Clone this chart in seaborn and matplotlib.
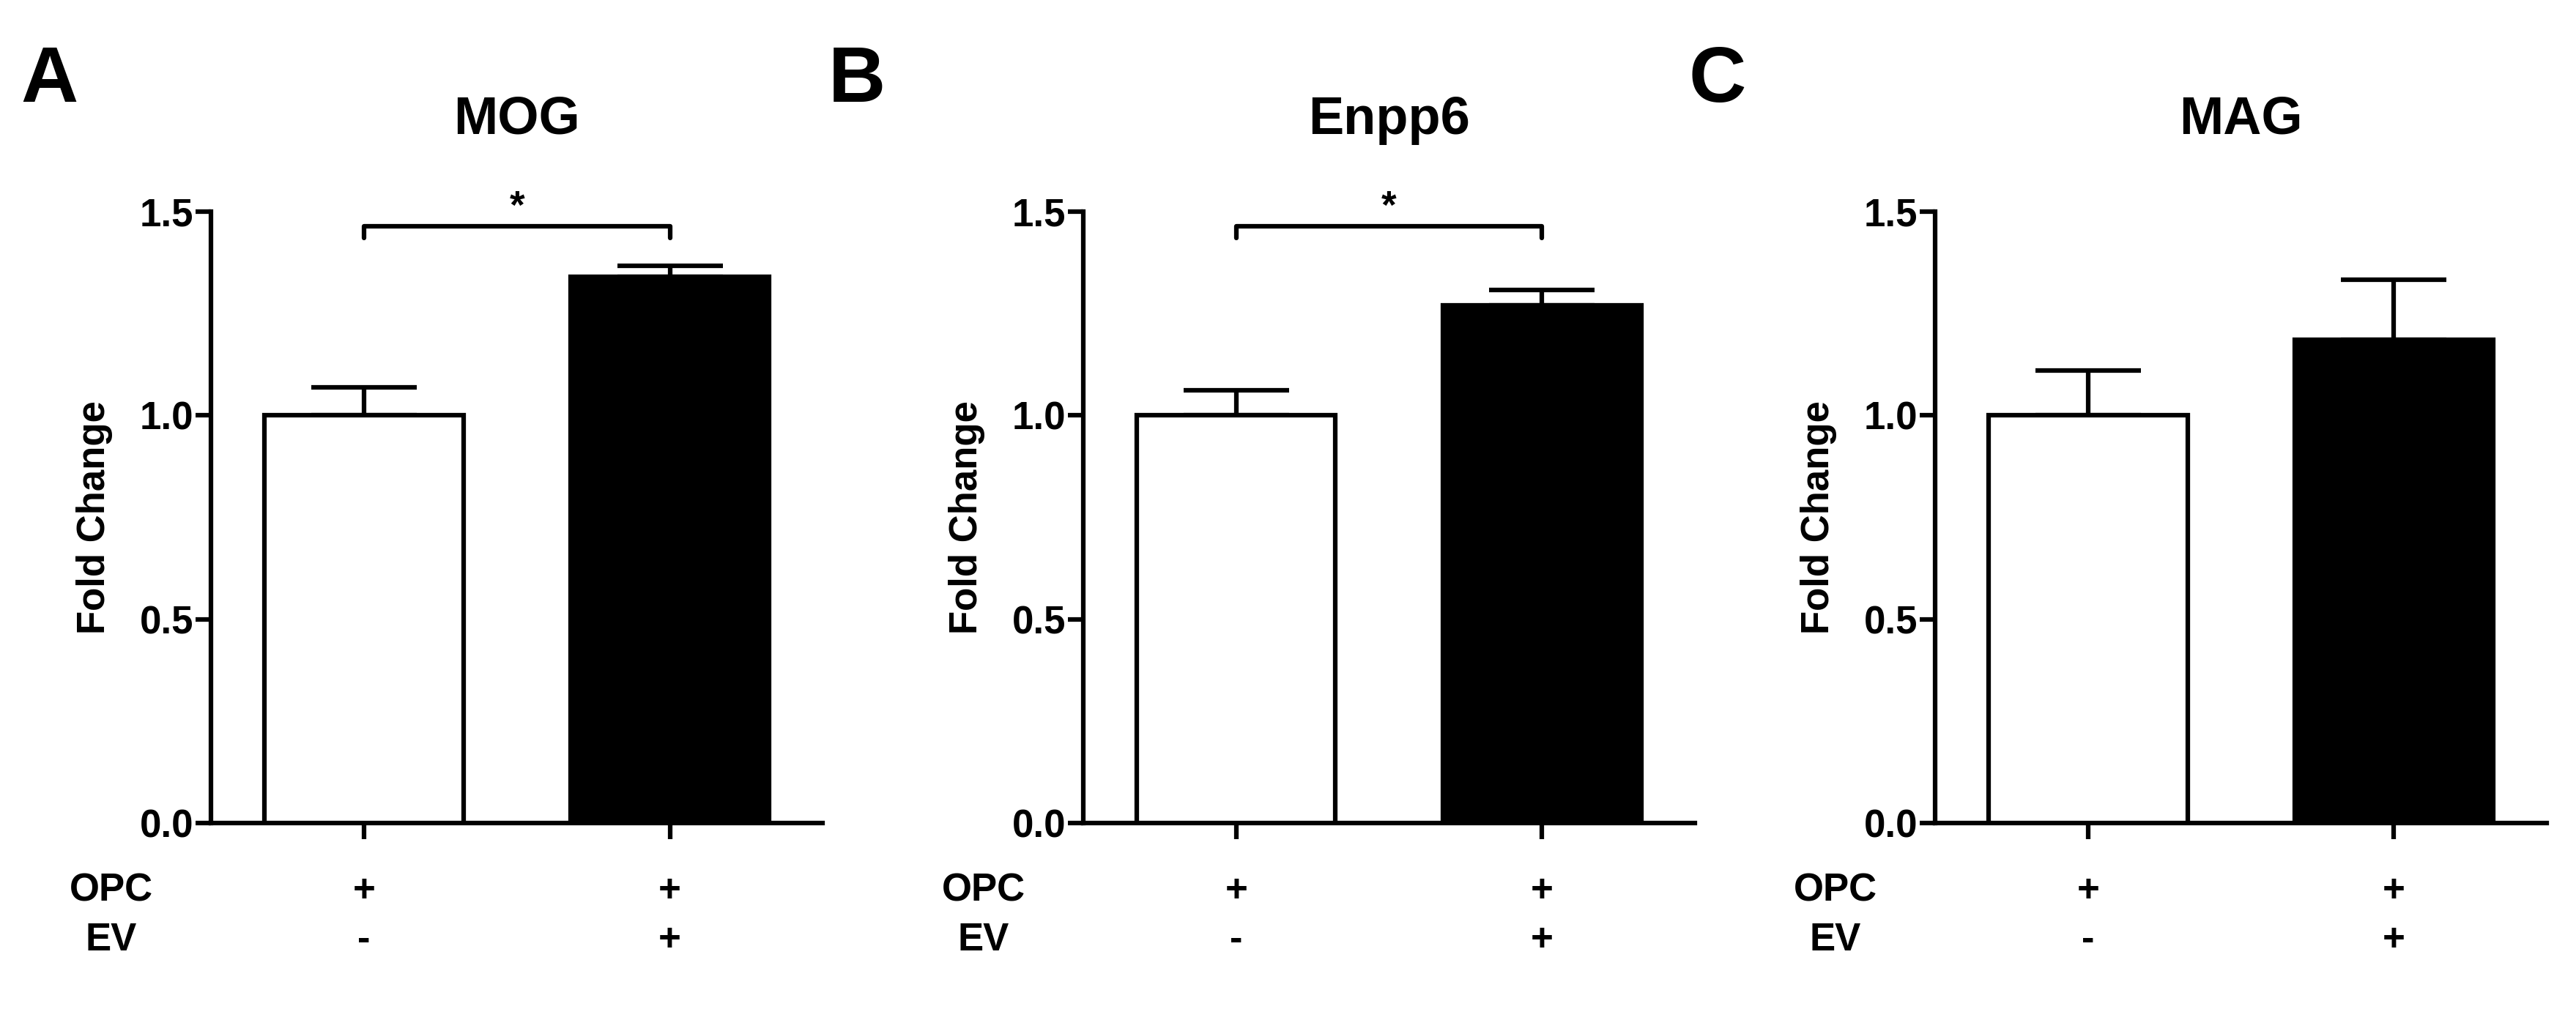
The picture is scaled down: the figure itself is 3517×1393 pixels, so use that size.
import seaborn as sns
import matplotlib.pyplot as plt
import matplotlib.transforms as mtransforms
import pandas as pd

# values (mean and upper SEM, fold change)
genes = ["MOG", "Enpp6", "MAG"]
panel_letters = ["A", "B", "C"]
groups = ["OPC", "OPC+EV"]
mog_mean = [1.00, 1.34]
mog_sem = [0.069, 0.027]
enpp6_mean = [1.00, 1.27]
enpp6_sem = [0.061, 0.038]
mag_mean = [1.00, 1.186]
mag_sem = [0.111, 0.147]
significant = [True, True, False]
opc_row = ["+", "+"]
ev_row = ["-", "+"]

means = [mog_mean, enpp6_mean, mag_mean]
sems = [mog_sem, enpp6_sem, mag_sem]

sns.set_style("ticks")
plt.rcParams["font.family"] = ["Liberation Sans", "DejaVu Sans"]
plt.rcParams["font.weight"] = "bold"
plt.rcParams["axes.labelweight"] = "bold"
plt.rcParams["axes.titleweight"] = "bold"
# pure black everywhere (seaborn defaults to dark grey)
for key in ["text.color", "axes.labelcolor", "axes.edgecolor",
            "xtick.color", "ytick.color"]:
    plt.rcParams[key] = "black"

LW = 4.5
FS = 38

fig = plt.figure(figsize=(35.17, 13.93), dpi=100)
lefts = [0.0819, 0.4205, 0.7512]
letter_x = [0.0193, 0.3327, 0.6668]

for i, gene in enumerate(genes):
    ax = fig.add_axes([lefts[i], 0.1931, 0.2375, 0.5994])
    df = pd.DataFrame({"group": groups, "value": means[i]})
    sns.barplot(data=df, x="group", y="value", hue="group",
                palette=["white", "black"], edgecolor="black", linewidth=LW,
                width=0.65, legend=False, ax=ax, zorder=3)
    # upper-only error bars, GraphPad style
    ax.errorbar(range(len(groups)), means[i], yerr=[[0, 0], sems[i]],
                fmt="none", ecolor="black", elinewidth=LW, capsize=52,
                capthick=LW, zorder=2)

    ax.set_xlim(-0.5, 1.5)
    ax.set_ylim(0, 1.5)
    ax.set_yticks([0.0, 0.5, 1.0, 1.5])
    ax.set_yticklabels(["0.0", "0.5", "1.0", "1.5"])
    ax.set_xticks([0, 1])
    ax.set_xticklabels([])
    ax.tick_params(axis="y", length=15, width=LW, labelsize=FS, pad=2)
    ax.tick_params(axis="x", length=16, width=LW)
    for lab in ax.get_yticklabels():
        lab.set_fontweight("bold")
    sns.despine(ax=ax)
    for side in ["left", "bottom"]:
        ax.spines[side].set_linewidth(LW)
        ax.spines[side].set_color("black")

    ax.set_xlabel("")
    ax.set_ylabel("Fold Change", fontsize=FS, fontweight="bold")
    ax.yaxis.set_label_coords(-0.16, 0.5)
    ax.set_title(gene, fontsize=52, fontweight="bold", y=1.15, pad=0, va="center")

    # +/- condition rows under the axis
    trans = mtransforms.blended_transform_factory(ax.transData, ax.transAxes)
    for j in range(len(groups)):
        ax.text(j, -0.111, opc_row[j], transform=trans, ha="center", va="center",
                fontsize=FS, fontweight="bold")
        ax.text(j, -0.192, ev_row[j], transform=trans, ha="center", va="center",
                fontsize=FS, fontweight="bold")
    ax.text(-0.163, -0.111, "OPC", transform=ax.transAxes, ha="center", va="center",
            fontsize=FS, fontweight="bold")
    ax.text(-0.163, -0.192, "EV", transform=ax.transAxes, ha="center", va="center",
            fontsize=FS, fontweight="bold")

    if significant[i]:
        ax.plot([0, 0, 1, 1], [1.436, 1.465, 1.465, 1.436], color="black",
                linewidth=LW, clip_on=False)
        ax.text(0.5, 1.51, "*", ha="center", va="center", fontsize=FS,
                fontweight="bold", clip_on=False)

    fig.text(letter_x[i], 0.92, panel_letters[i], ha="center", va="center",
             fontsize=78, fontweight="bold")

fig.savefig("out.png", dpi=100)
